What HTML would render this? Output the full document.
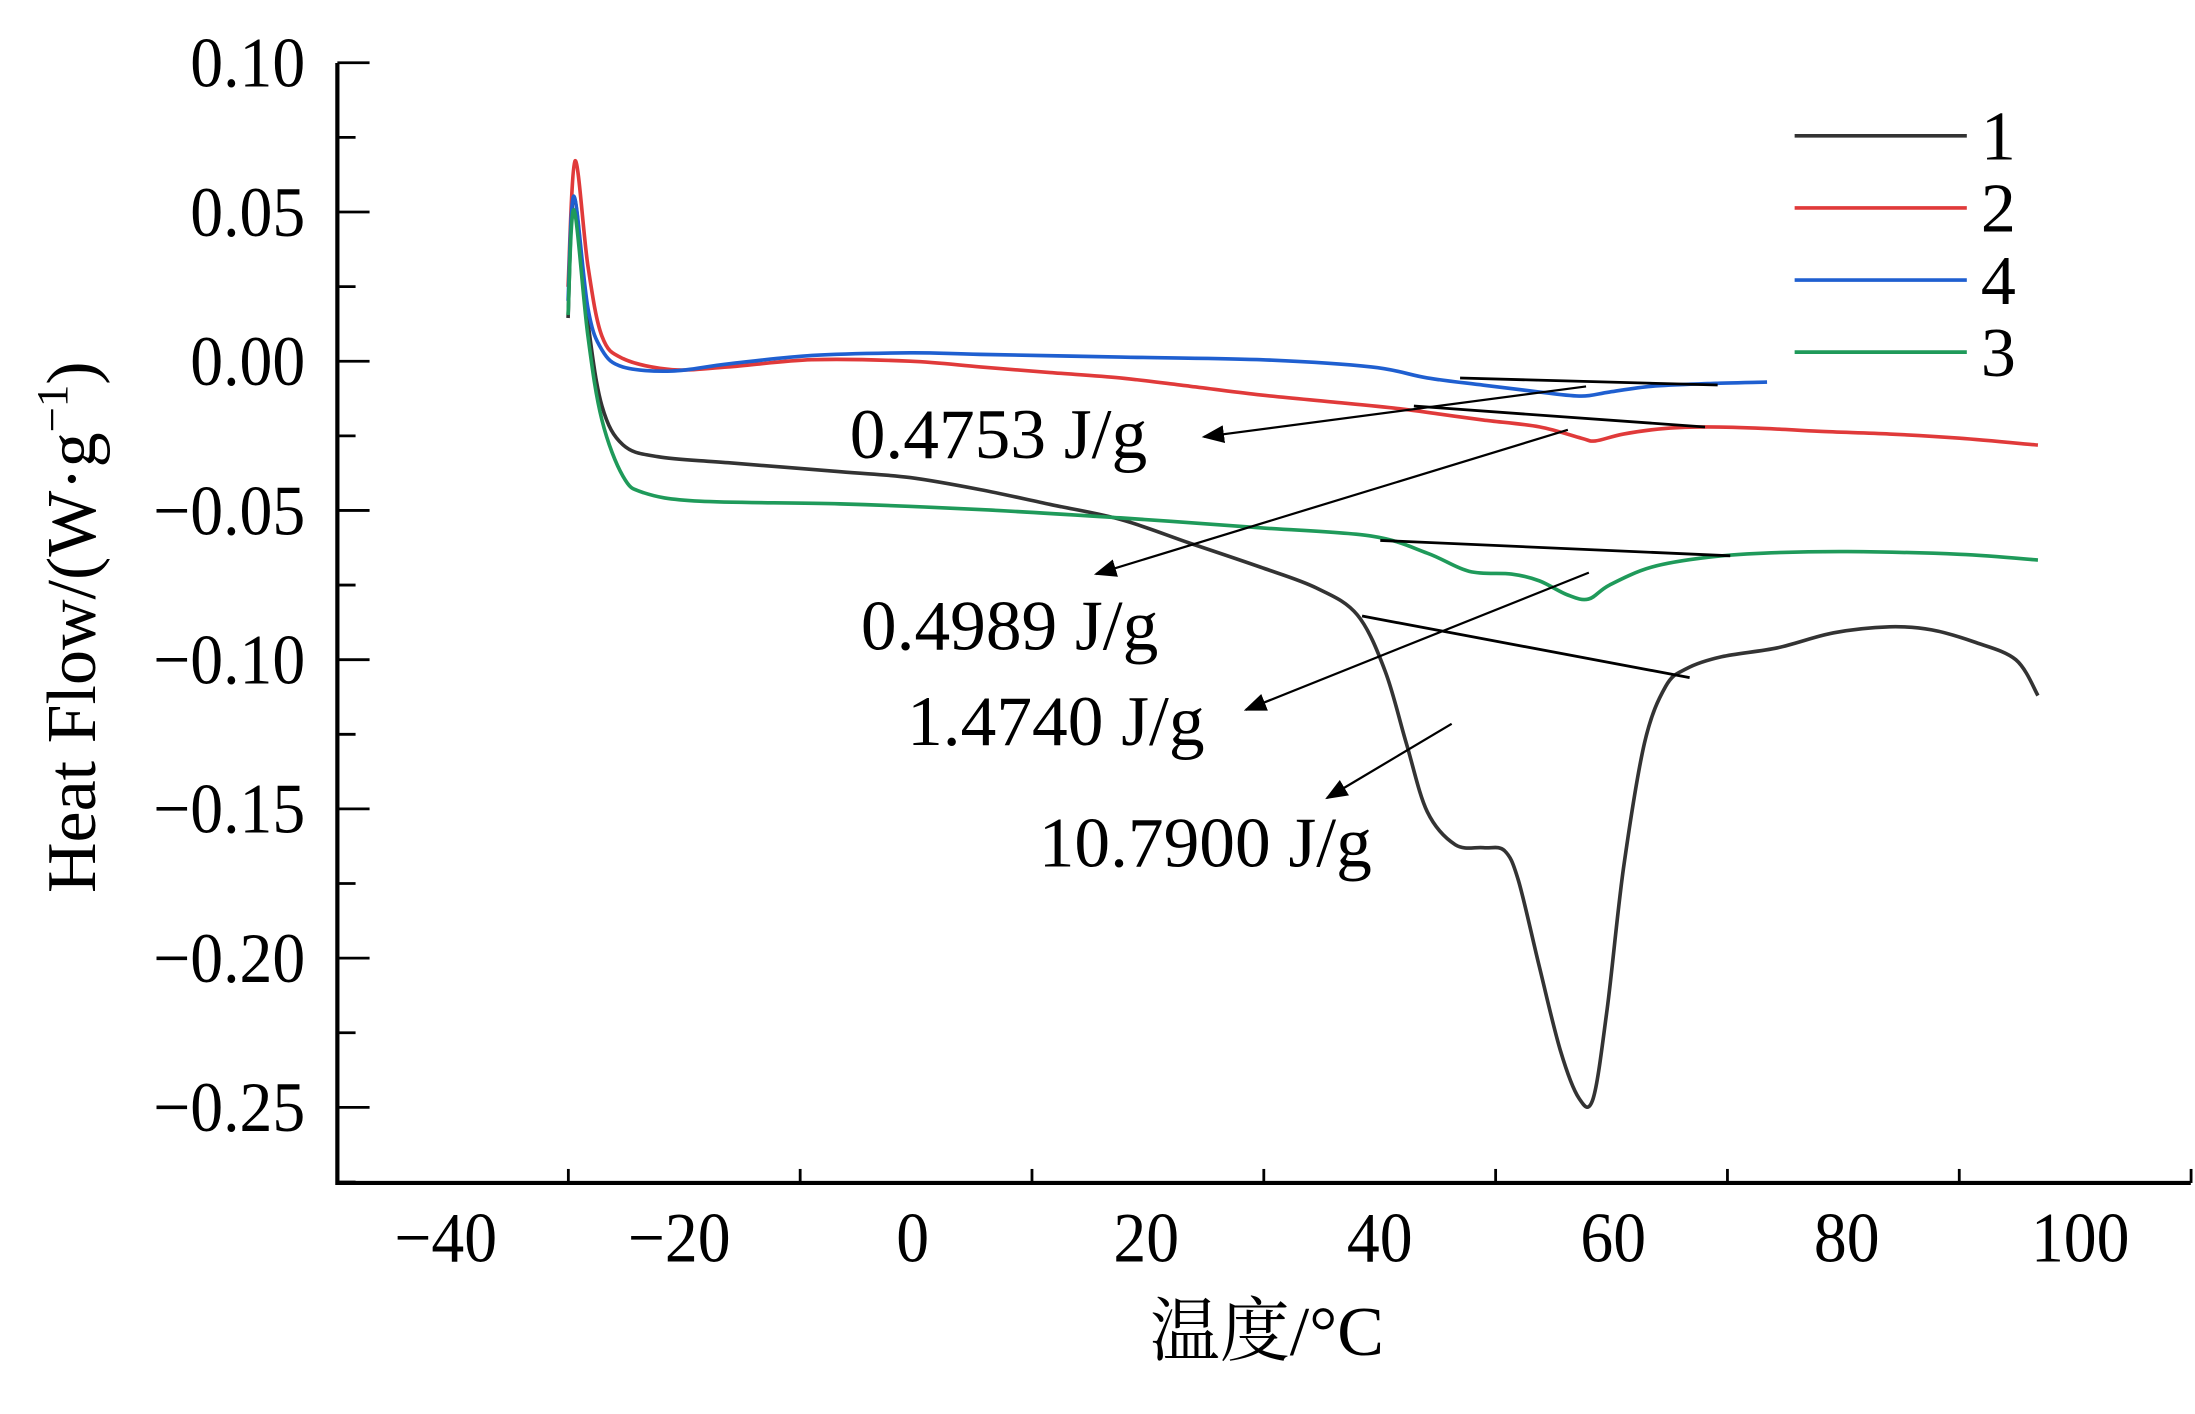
<!DOCTYPE html>
<html><head><meta charset="utf-8"><style>
html,body{margin:0;padding:0;background:#fff;}
svg{display:block;}
text{font-family:"Liberation Serif","Noto Serif CJK SC",serif;fill:#000;}
</style></head><body>
<svg id="chart" width="2195" height="1414" viewBox="0 0 1568 1010" xmlns="http://www.w3.org/2000/svg">
<defs><marker id="ah" markerWidth="10" markerHeight="8" refX="9" refY="4" orient="auto"><path d="M0,0 L10,4 L0,8 z" fill="#000"/></marker></defs>
<g id="axes"></g>
<g id="series"></g>
<g id="annot"></g>
<text transform="translate(68,448) rotate(-90)" text-anchor="middle" font-size="50">Heat Flow/(W·g<tspan dy="-20" font-size="32">−1</tspan><tspan dy="20">)</tspan></text>
<text x="905" y="968" text-anchor="middle" font-size="50">温度/°C</text>
</svg>
<script>
const xTickLabels=["−40","−20","0","20","40","60","80","100"];
const xTickValues=[-40,-20,0,20,40,60,80,100];
const yTickValues=[0.10,0.05,0.00,-0.05,-0.10,-0.15,-0.20,-0.25];
const yTickLabels=["0.10","0.05","0.00","−0.05","−0.10","−0.15","−0.20","−0.25"];
const legendNames=["1","2","4","3"];
const t1=[-30.0,-29.5,-28.3,-27.1,-25.3,-22.3,-16.3,-6.7,-0.7,5.3,11.3,17.3,23.3,29.3,34.1,37.6,40.0,41.8,43.6,46.0,48.4,50.2,51.4,53.2,55.0,56.6,57.8,59.0,60.4,62.2,64.0,65.8,68.8,73.6,78.4,83.2,86.8,90.4,94.0,95.9];
const v1=[0.0145,0.055,0.013,-0.015,-0.028,-0.032,-0.034,-0.037,-0.039,-0.043,-0.048,-0.053,-0.061,-0.069,-0.076,-0.085,-0.104,-0.128,-0.151,-0.162,-0.163,-0.164,-0.174,-0.203,-0.231,-0.247,-0.247,-0.217,-0.170,-0.128,-0.109,-0.103,-0.099,-0.096,-0.091,-0.089,-0.090,-0.094,-0.100,-0.112];
const t2=[-30.0,-29.4,-28.3,-27.1,-25.3,-21.1,-16.3,-9.1,-0.7,5.3,11.3,17.3,23.3,29.3,35.3,41.2,44.8,48.4,53.2,56.8,58.0,60.4,64.0,67.6,72.4,77.2,83.2,89.2,95.9];
const v2=[0.0249,0.0671,0.0319,0.0084,0.0009,-0.0028,-0.0019,0.0005,0,-0.0019,-0.0038,-0.0056,-0.0084,-0.0113,-0.0136,-0.0159,-0.0178,-0.0197,-0.0220,-0.0258,-0.0267,-0.0244,-0.0225,-0.0220,-0.0225,-0.0235,-0.0244,-0.0258,-0.0281];
const t4=[-30.0,-29.5,-28.3,-27.1,-25.3,-21.1,-16.3,-9.1,-0.7,5.3,17.3,29.3,38.8,43.6,48.4,53.2,56.8,59.2,62.8,67.6,72.7];
const v4=[0.0202,0.0553,0.0178,0.0038,-0.0019,-0.0033,-0.0009,0.0019,0.0028,0.0023,0.0014,0.0005,-0.0019,-0.0056,-0.0080,-0.0103,-0.0117,-0.0103,-0.0084,-0.0075,-0.0070];
const t3=[-30.0,-29.5,-28.3,-27.1,-25.3,-23.5,-18.7,-6.7,5.3,17.3,29.3,38.8,43.6,47.2,50.8,53.2,55.6,57.4,59.2,62.8,67.6,72.4,79.6,89.2,95.9];
const v3=[0.0155,0.0507,0.0084,-0.0197,-0.0385,-0.0441,-0.0469,-0.0478,-0.0497,-0.0525,-0.0558,-0.0586,-0.0643,-0.0704,-0.0713,-0.0736,-0.0783,-0.0797,-0.0750,-0.0690,-0.0657,-0.0643,-0.0638,-0.0647,-0.0666];
const energyLabels=["0.4753 J/g","0.4989 J/g","1.4740 J/g","10.7900 J/g"];

const NS="http://www.w3.org/2000/svg";
const X=t=>656+8.34*t;
const Y=v=>258-v*2132;
function mk(tag,attrs,parent){const e=document.createElementNS(NS,tag);for(const k in attrs)e.setAttribute(k,attrs[k]);parent.appendChild(e);return e;}
function smooth(p){
 let d='M'+p[0][0].toFixed(1)+','+p[0][1].toFixed(1);
 for(let i=0;i<p.length-1;i++){
  const p0=p[Math.max(0,i-1)],p1=p[i],p2=p[i+1],p3=p[Math.min(p.length-1,i+2)];
  const c1=[p1[0]+(p2[0]-p0[0])/6,p1[1]+(p2[1]-p0[1])/6];
  const c2=[p2[0]-(p3[0]-p1[0])/6,p2[1]-(p3[1]-p1[1])/6];
  d+=' C'+c1[0].toFixed(1)+','+c1[1].toFixed(1)+' '+c2[0].toFixed(1)+','+c2[1].toFixed(1)+' '+p2[0].toFixed(1)+','+p2[1].toFixed(1);
 }
 return d;
}
const axes=document.getElementById('axes');
let e;
e=mk('path',{d:'M241,45 V845 H1565',fill:'none',stroke:'#000','stroke-width':3},axes);


for(let i=0;i<8;i++){
 const tx=406+i*165.6;
 e=mk('line',{x1:tx,x2:tx,y1:845,y2:835,stroke:'#000','stroke-width':2},axes);
 
 
}
xTickValues.forEach((v,i)=>{
 const cx=X(v)-4;
 e=mk('text',{x:0,y:0,'text-anchor':'middle','font-size':51,transform:'translate('+cx+',901) scale(0.92,1)'},axes);
 e.textContent=xTickLabels[i];
 
 
});
yTickValues.forEach((v,i)=>{
 e=mk('line',{x1:241,x2:264,y1:Y(v),y2:Y(v),stroke:'#000','stroke-width':2},axes);
 
 
 e=mk('line',{x1:241,x2:254,y1:Y(v-0.025),y2:Y(v-0.025),stroke:'#000','stroke-width':2},axes);
 
 
 e=mk('text',{x:0,y:0,'text-anchor':'end','font-size':51,transform:'translate(218,'+(Y(v)+17)+') scale(0.92,1)'},axes);
 e.textContent=yTickLabels[i];
 
 
});
const ser=document.getElementById('series');
const defs=[[t1,v1,'#333333','1'],[t2,v2,'#e03a3a','2'],[t4,v4,'#1f5fd0','4'],[t3,v3,'#1f9a5a','3']];
defs.forEach(([t,v,c,n])=>{
 const pts=t.map((tt,i)=>[X(tt),Y(v[i])]);
 e=mk('path',{d:smooth(pts),fill:'none',stroke:c,'stroke-width':2.6,'stroke-linejoin':'round'},ser);
 
 
});
legendNames.forEach((n,i)=>{
 const c=defs.find(d=>d[3]===n)[2];
 const ly=97+i*51.5;
 e=mk('line',{x1:1282,x2:1405,y1:ly,y2:ly,stroke:c,'stroke-width':2.6},ser);
 
 
 e=mk('text',{x:1415,y:ly+17,'font-size':50},ser);
 e.textContent=n;
 
 
});
const an=document.getElementById('annot');
[[1043,270,1227,275],[1010,290,1218,305],[986,386,1236,397],[973,440,1207,484]].forEach(b=>{
 e=mk('line',{x1:b[0],y1:b[1],x2:b[2],y2:b[3],stroke:'#000','stroke-width':2},an);
 
 
});
[[1133,276,860,312],[1120,307,783,410],[1135,409,890,507],[1037,517,948,570]].forEach(a=>{
 e=mk('line',{x1:a[0],y1:a[1],x2:a[2],y2:a[3],stroke:'#000','stroke-width':1.6,'marker-end':'url(#ah)'},an);
 
 
});
[[607,327],[615,464],[648,532],[742,619]].forEach((p,i)=>{
 e=mk('text',{x:p[0],y:p[1],'font-size':51},an);
 e.textContent=energyLabels[i];
 
 
});
</script>
</body></html>
